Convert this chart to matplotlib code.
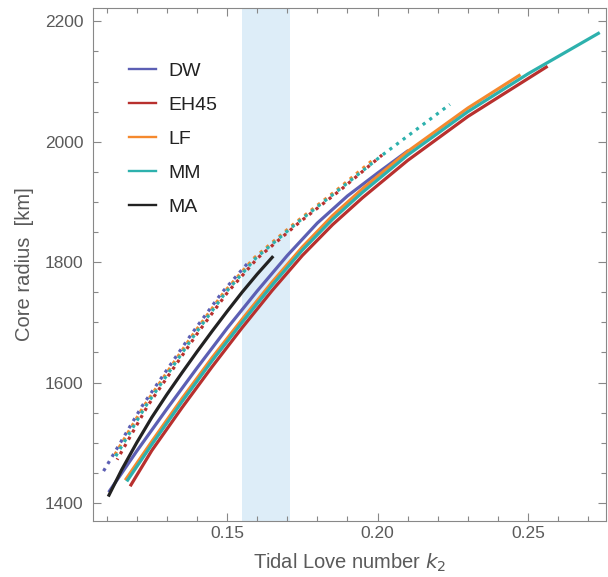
import matplotlib.pyplot as plt
from matplotlib.ticker import MultipleLocator

# solid curves: tidal Love number k2 vs core radius [km]
dw_k2 = [0.111, 0.120, 0.130, 0.140, 0.150, 0.160, 0.170, 0.180, 0.190, 0.200, 0.2098]
dw_r = [1420, 1486, 1556, 1624, 1690, 1752, 1811, 1865, 1910, 1948, 1984]
eh45_k2 = [0.1181, 0.125, 0.135, 0.145, 0.155, 0.165, 0.175, 0.185, 0.195, 0.210, 0.230, 0.256]
eh45_r = [1430, 1487, 1558, 1626, 1691, 1753, 1811, 1862, 1907, 1969, 2042, 2124]
lf_k2 = [0.1165, 0.125, 0.135, 0.145, 0.155, 0.165, 0.175, 0.185, 0.195, 0.210, 0.230, 0.247]
lf_r = [1440, 1502, 1573, 1641, 1705, 1767, 1825, 1877, 1922, 1984, 2056, 2110]
mm_k2 = [0.117, 0.125, 0.135, 0.145, 0.155, 0.165, 0.175, 0.185, 0.195, 0.210, 0.230, 0.250, 0.2733]
mm_r = [1438, 1497, 1568, 1636, 1700, 1762, 1820, 1871, 1916, 1978, 2050, 2113, 2180]
ma_k2 = [0.1108, 0.115, 0.120, 0.125, 0.130, 0.135, 0.140, 0.145, 0.150, 0.155, 0.160, 0.165]
ma_r = [1413, 1455, 1500, 1542, 1580, 1616, 1651, 1685, 1718, 1750, 1780, 1808]

# dotted curves
dw_dot_k2 = [0.109, 0.1218, 0.1384, 0.1484, 0.157]
dw_dot_r = [1453, 1561, 1682, 1750, 1799]
eh45_dot_k2 = [0.1135, 0.1236, 0.1402, 0.1502, 0.1602, 0.1740, 0.1877, 0.2015]
eh45_dot_r = [1472, 1561, 1682, 1750, 1807, 1866, 1920, 1978]
lf_dot_k2 = [0.112, 0.1224, 0.139, 0.149, 0.159, 0.1728, 0.1865, 0.1985]
lf_dot_r = [1474, 1561, 1682, 1750, 1807, 1866, 1920, 1970]
mm_dot_k2 = [0.1126, 0.1230, 0.1396, 0.1496, 0.1596, 0.1734, 0.1871, 0.2016, 0.224]
mm_dot_r = [1474, 1561, 1682, 1750, 1807, 1866, 1920, 1978, 2062]

band = (0.155, 0.171)

colors = {"DW": "#5c5fb4", "EH45": "#b8302e", "LF": "#f5892e",
          "MM": "#2db1ad", "MA": "#222222"}
grey = "#5a5a5a"

plt.rcParams['font.family'] = ['Liberation Sans', 'DejaVu Sans']
fig = plt.figure(figsize=(6.08, 5.77), dpi=100)
ax = fig.add_axes([0.153, 0.097, 0.844, 0.889])

ax.axvspan(band[0], band[1], color="#ddedf8", lw=0, zorder=0)

lw = 2.3
ax.plot(dw_dot_k2, dw_dot_r, color=colors["DW"], lw=lw, ls=(0, (1.0, 1.6)))
ax.plot(eh45_dot_k2, eh45_dot_r, color=colors["EH45"], lw=lw, ls=(0.6, (1.0, 1.6)))
ax.plot(lf_dot_k2, lf_dot_r, color=colors["LF"], lw=lw, ls=(1.2, (1.0, 1.6)))
ax.plot(mm_dot_k2, mm_dot_r, color=colors["MM"], lw=lw, ls=(1.8, (1.0, 1.6)))

ax.plot(dw_k2, dw_r, color=colors["DW"], lw=lw, label="DW")
ax.plot(eh45_k2, eh45_r, color=colors["EH45"], lw=lw, label="EH45")
ax.plot(lf_k2, lf_r, color=colors["LF"], lw=lw, label="LF")
ax.plot(mm_k2, mm_r, color=colors["MM"], lw=lw, label="MM")
ax.plot(ma_k2, ma_r, color=colors["MA"], lw=lw, label="MA")

ax.set_xlim(0.1055, 0.2759)
ax.set_ylim(1370, 2222)
ax.xaxis.set_major_locator(MultipleLocator(0.05))
ax.xaxis.set_minor_locator(MultipleLocator(0.01))
ax.yaxis.set_major_locator(MultipleLocator(200))
ax.yaxis.set_minor_locator(MultipleLocator(50))
ax.xaxis.set_major_formatter(plt.FuncFormatter(lambda v, p: f"{v:.2f}"))
ax.tick_params(which="both", direction="in", top=True, right=True,
               colors="#888888", labelcolor=grey, labelsize=12.5)
ax.tick_params(which="major", length=6, width=0.8)
ax.tick_params(which="minor", length=3.5, width=0.8)
ax.tick_params(axis="y", pad=7)
for s in ax.spines.values():
    s.set_color("#888888")
    s.set_linewidth(0.8)

ax.set_xlabel("Tidal Love number $k_2$", fontsize=14.5, color=grey, labelpad=8)
ax.set_ylabel("Core radius  [km]", fontsize=14.5, color=grey, labelpad=8)

leg = ax.legend(loc="upper left", bbox_to_anchor=(0.036, 0.929), frameon=False,
                fontsize=14, handlelength=1.4, labelspacing=0.85,
                handletextpad=0.65)
for t in leg.get_texts():
    t.set_color("#222222")
for h in leg.legend_handles:
    h.set_linewidth(1.7)

fig.savefig("out.png", dpi=100)
